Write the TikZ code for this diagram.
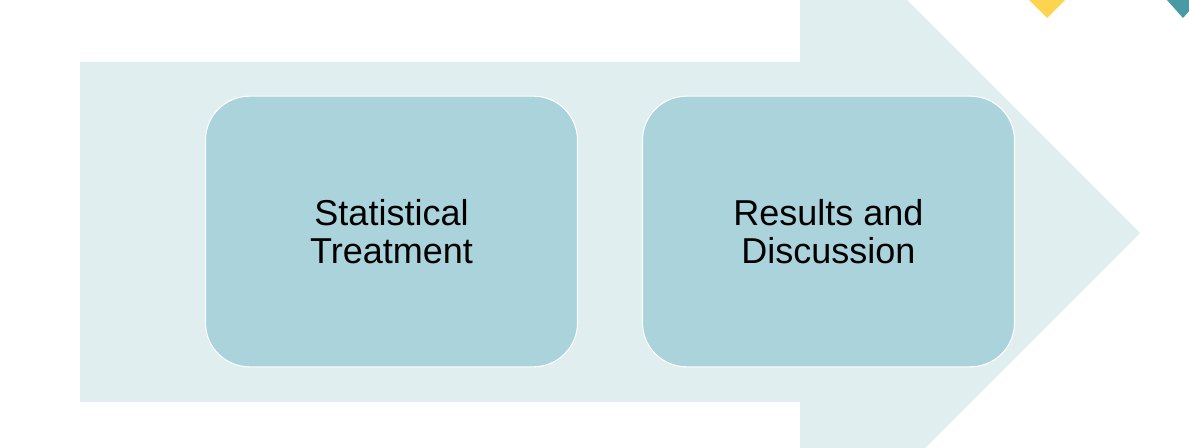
\documentclass[tikz,border=0pt]{standalone}
\usepackage{fontspec}
\setmainfont{Liberation Sans}
\usetikzlibrary{shapes, positioning}

\definecolor{arrowbg}{HTML}{E0EEF0}
\definecolor{boxfill}{HTML}{AAD3DB}
\definecolor{accentyellow}{HTML}{FCD450}
\definecolor{accentteal}{HTML}{4A9AA5}

\begin{document}
\begin{tikzpicture}[x=0.75pt, y=-0.75pt, font=\fontsize{27}{28.5}\selectfont,
  stepbox/.style={draw=white, line width=0.8pt, fill=boxfill, rounded corners=33pt,
    minimum width=279pt, minimum height=203pt, align=center, inner sep=0pt}]

\useasboundingbox (0,0) rectangle (1189,448);
\clip (0,0) rectangle (1189,448);

% big arrow behind the steps
\fill[arrowbg] (80,62) -- (800,62) -- (800,-107) -- (1140,233) -- (800,573) -- (800,402) -- (80,402) -- cycle;

% corner marks
\fill[accentyellow] (1028,-1) -- (1066,-1) -- (1047,18) -- cycle;
\fill[accentteal] (1166,-1) -- (1200,-1) -- (1183,18) -- cycle;

\node[stepbox] (stat) at (391.5,231.5) {Statistical\\Treatment};
\node[stepbox] (results) at (828.5,231.5) {Results and\\Discussion};
\end{tikzpicture}
\end{document}
